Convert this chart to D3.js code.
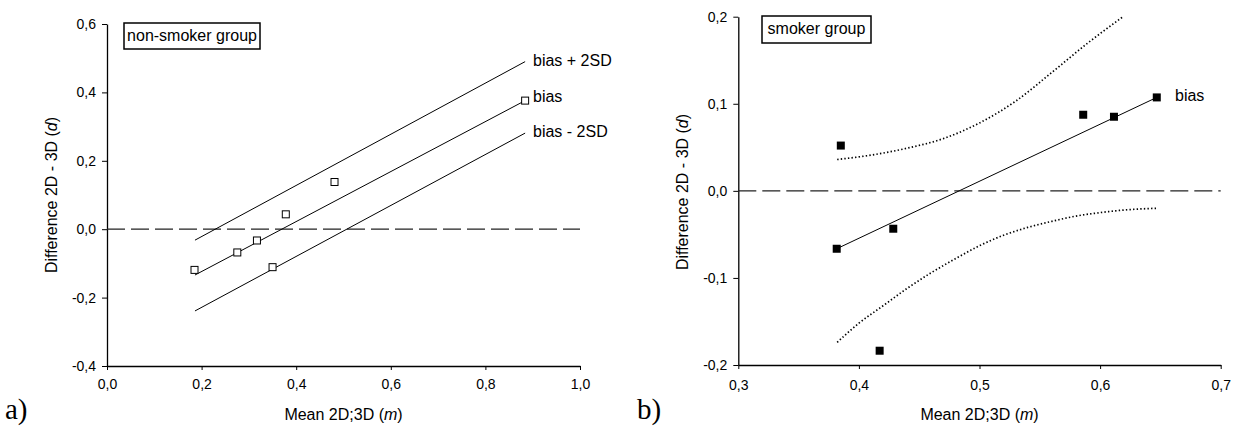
<!DOCTYPE html>
<html>
<head>
  <title>Bland-Altman plots</title>
  <script src="https://d3js.org/d3.v7.min.js"></script>
  <style>
    body { margin: 0; background: #fff; }
    text { font-family: "Liberation Sans", Arial, sans-serif; fill: #000; }
  </style>
</head>
<body>
  <div id="chart"></div>

  <script>
    // non-smoker group (panel a)
    const nsPoints = [
      { m: 0.185, d: -0.119 },
      { m: 0.2755, d: -0.068 },
      { m: 0.317, d: -0.033 },
      { m: 0.350, d: -0.111 },
      { m: 0.378, d: 0.0435 },
      { m: 0.481, d: 0.138 },
      { m: 0.884, d: 0.376 }
    ];
    const nsBias = [{ m: 0.186, d: -0.134 }, { m: 0.884, d: 0.376 }];
    const nsUpper = [{ m: 0.186, d: -0.032 }, { m: 0.884, d: 0.490 }];
    const nsLower = [{ m: 0.186, d: -0.239 }, { m: 0.884, d: 0.281 }];
    const nsXTicks = [0, 0.2, 0.4, 0.6, 0.8, 1.0];
    const nsYTicks = [-0.4, -0.2, 0, 0.2, 0.4, 0.6];

    // smoker group (panel b)
    const smPoints = [
      { m: 0.385, d: 0.052 },
      { m: 0.3816, d: -0.0665 },
      { m: 0.4285, d: -0.0435 },
      { m: 0.4172, d: -0.1836 },
      { m: 0.586, d: 0.0874 },
      { m: 0.6115, d: 0.0851 },
      { m: 0.647, d: 0.1073 }
    ];
    const smBias = [{ m: 0.3816, d: -0.0665 }, { m: 0.647, d: 0.1073 }];
    const smUpper = [
      { m: 0.382, d: 0.036 }, { m: 0.41, d: 0.041 }, { m: 0.44, d: 0.049 },
      { m: 0.47, d: 0.060 }, { m: 0.50, d: 0.078 }, { m: 0.53, d: 0.103 },
      { m: 0.56, d: 0.136 }, { m: 0.59, d: 0.170 }, { m: 0.619, d: 0.200 }
    ];
    const smLower = [
      { m: 0.382, d: -0.174 }, { m: 0.40, d: -0.152 }, { m: 0.42, d: -0.132 },
      { m: 0.44, d: -0.112 }, { m: 0.46, d: -0.094 }, { m: 0.48, d: -0.078 },
      { m: 0.50, d: -0.063 }, { m: 0.52, d: -0.051 }, { m: 0.54, d: -0.042 },
      { m: 0.56, d: -0.035 }, { m: 0.58, d: -0.029 }, { m: 0.60, d: -0.025 },
      { m: 0.62, d: -0.022 }, { m: 0.647, d: -0.020 }
    ];
    const smXTicks = [0.3, 0.4, 0.5, 0.6, 0.7];
    const smYTicks = [-0.2, -0.1, 0, 0.1, 0.2];

    const width = 1235;
    const height = 431;

    const svg = d3.select("#chart")
      .append("svg")
      .attr("width", width)
      .attr("height", height);

    const fmt = d => d3.format(".1f")(d).replace(".", ",").replace("−", "-");

    function panel(opt) {
      const x = d3.scaleLinear().domain(opt.xDomain).range(opt.xRange);
      const y = d3.scaleLinear().domain(opt.yDomain).range(opt.yRange);
      const g = svg.append("g");

      g.append("g")
        .attr("transform", `translate(0, ${opt.yRange[0]})`)
        .call(d3.axisBottom(x).tickValues(opt.xTicks).tickFormat(fmt)
          .tickSizeInner(4).tickSizeOuter(0).tickPadding(opt.xPad));
      g.append("g")
        .attr("transform", `translate(${opt.xRange[0]}, 0)`)
        .call(d3.axisLeft(y).tickValues(opt.yTicks).tickFormat(fmt)
          .tickSizeInner(5).tickSizeOuter(0).tickPadding(6));
      g.selectAll(".domain").attr("stroke", "#000").attr("stroke-width", 1.3);
      g.selectAll(".tick line").attr("stroke", "#000");
      g.selectAll(".tick text")
        .style("font-size", "14px")
        .attr("fill", "#111");

      // zero reference line
      g.append("line")
        .attr("x1", x(opt.xDomain[0])).attr("x2", x(opt.xDomain[1]))
        .attr("y1", y(0)).attr("y2", y(0))
        .attr("stroke", "#222").attr("stroke-width", 1.2)
        .attr("stroke-dasharray", "18,6");

      const line = d3.line().x(d => x(d.m)).y(d => y(d.d));
      const curve = d3.line().curve(d3.curveMonotoneX).x(d => x(d.m)).y(d => y(d.d));

      opt.lines.forEach(l => {
        g.append("path")
          .datum(l.data)
          .attr("d", l.dotted ? curve : line)
          .attr("fill", "none")
          .attr("stroke", "#000")
          .attr("stroke-width", l.dotted ? 1.7 : 1)
          .attr("stroke-dasharray", l.dotted ? "1.4,2.2" : null);
      });

      g.selectAll("rect.pt")
        .data(opt.points)
        .join("rect")
        .attr("class", "pt")
        .attr("x", d => x(d.m) - opt.size / 2)
        .attr("y", d => y(d.d) - opt.size / 2)
        .attr("width", opt.size)
        .attr("height", opt.size)
        .attr("fill", opt.filled ? "#000" : "#fff")
        .attr("stroke", "#000")
        .attr("stroke-width", opt.filled ? 0 : 1);

      opt.labels.forEach(l => {
        g.append("text")
          .attr("x", l.x).attr("y", l.y)
          .attr("font-size", 16)
          .text(l.text);
      });

      // group box
      g.append("rect")
        .attr("x", opt.box.x).attr("y", opt.box.y)
        .attr("width", opt.box.w).attr("height", opt.box.h)
        .attr("fill", "#fff").attr("stroke", "#000").attr("stroke-width", 1.5);
      g.append("text")
        .attr("x", opt.box.x + opt.box.w / 2).attr("y", opt.box.y + 18)
        .attr("text-anchor", "middle")
        .attr("font-size", 16)
        .text(opt.box.text);

      // axis titles
      const xt = g.append("text")
        .attr("x", (opt.xRange[0] + opt.xRange[1]) / 2)
        .attr("y", 420)
        .attr("text-anchor", "middle")
        .attr("font-size", 16);
      xt.append("tspan").text("Mean 2D;3D (");
      xt.append("tspan").attr("font-style", "italic").text("m");
      xt.append("tspan").text(")");

      const yt = g.append("text")
        .attr("transform", `translate(${opt.yTitleX}, ${opt.yTitleY}) rotate(-90)`)
        .attr("text-anchor", "middle")
        .attr("font-size", 16);
      yt.append("tspan").text("Difference 2D - 3D (");
      yt.append("tspan").attr("font-style", "italic").text("d");
      yt.append("tspan").text(")");

      g.append("text")
        .attr("x", opt.tagX).attr("y", 419)
        .style("font-family", "'Liberation Serif', 'Times New Roman', serif")
        .attr("font-size", 29)
        .text(opt.tag);
    }

    panel({
      xDomain: [0, 1], xRange: [107, 580],
      yDomain: [-0.4, 0.6], yRange: [366, 24],
      xTicks: nsXTicks, yTicks: nsYTicks, xPad: 9,
      points: nsPoints, size: 7, filled: false,
      lines: [
        { data: nsUpper }, { data: nsBias }, { data: nsLower }
      ],
      labels: [
        { x: 533, y: 66, text: "bias + 2SD" },
        { x: 533, y: 102, text: "bias" },
        { x: 533, y: 137, text: "bias - 2SD" }
      ],
      box: { x: 124, y: 23, w: 136, h: 26, text: "non-smoker group" },
      yTitleX: 57, yTitleY: 195,
      tag: "a)", tagX: 5
    });

    panel({
      xDomain: [0.3, 0.7], xRange: [738.3, 1220.7],
      yDomain: [-0.2, 0.2], yRange: [365, 16.7],
      xTicks: smXTicks, yTicks: smYTicks, xPad: 11,
      points: smPoints, size: 8, filled: true,
      lines: [
        { data: smBias },
        { data: smUpper, dotted: true },
        { data: smLower, dotted: true }
      ],
      labels: [
        { x: 1175, y: 101, text: "bias" }
      ],
      box: { x: 762, y: 16, w: 109, h: 27, text: "smoker group" },
      yTitleX: 688, yTitleY: 192,
      tag: "b)", tagX: 637
    });
  </script>
</body>
</html>
